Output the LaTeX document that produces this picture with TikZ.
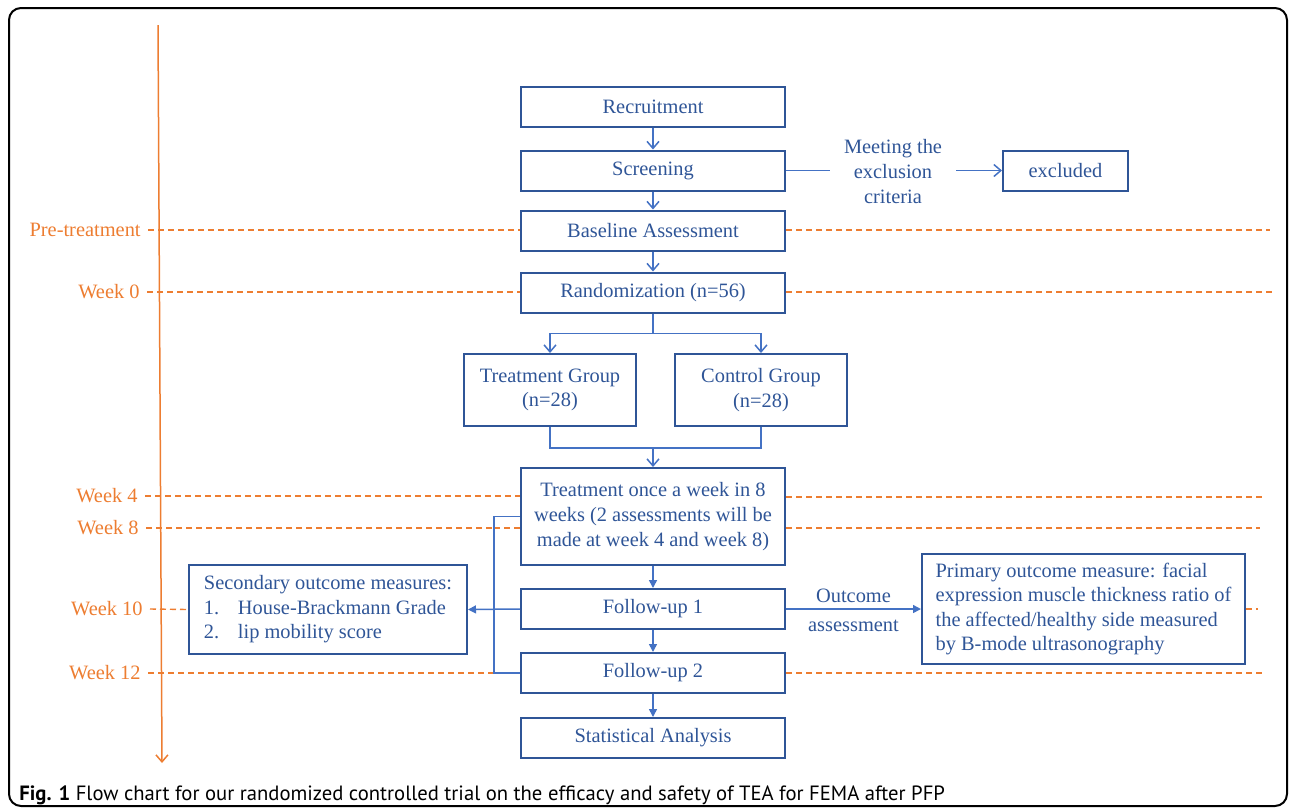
\documentclass[tikz,border=0pt]{standalone}
\usepackage{fontspec}
\setmainfont{Liberation Serif}
\newfontfamily\capfont{PT Sans}
\usetikzlibrary{arrows.meta}

\definecolor{axisorange}{HTML}{ED7D31}
\definecolor{boxblue}{HTML}{2F5597}
\definecolor{lineblue}{HTML}{4472C4}

\newcommand{\flowfont}{\fontsize{10.2}{12.3}\selectfont}

\tikzset{
  stage/.style={draw=boxblue, line width=1pt, text=boxblue, minimum width=132pt,
    minimum height=20pt, inner sep=0pt, font=\flowfont, align=center},
  note/.style={text=boxblue, font=\flowfont, align=center},
  conn/.style={draw=lineblue, line width=0.75pt},
  vtip/.style={-{Straight Barb[length=3.5pt,width=6pt]}},
  ttip/.style={-{Triangle[length=4pt,width=4pt]}},
  week/.style={text=axisorange, anchor=east, inner xsep=3.5pt, inner ysep=0pt, font=\flowfont},
  weekline/.style={draw=axisorange, line width=0.7pt, dash pattern=on 3pt off 2pt},
}

\begin{document}
\begin{tikzpicture}[x=0.5pt, y=-0.5pt]
  \useasboundingbox (0,0) rectangle (1292,810);
  % frame
  \draw[line width=1pt, rounded corners=6pt] (9,8) rectangle (1287,806);

  % time axis
  \coordinate (axtop) at (158,25);
  \coordinate (axbot) at (162,763);
  \draw[draw=axisorange, line width=0.75pt, vtip] (axtop) -- (axbot);

  % flow boxes
  \node[stage] (rec) at (653,106.5) {Recruitment};
  \node[stage] (scr) at (653,170.5) {Screening};
  \node[stage] (base) at (653,230.5) {Baseline Assessment};
  \node[stage] (rand) at (653,292.5) {Randomization (n=56)};
  \node[stage, minimum width=86pt, minimum height=36pt] (tg) at (550,390) {Treatment Group\\(n=28)};
  \node[stage, minimum width=86pt, minimum height=36pt] (cg) at (761,390) {Control Group\\(n=28)};
  \node[stage, minimum height=48.5pt] (treat) at (653,516.5) {Treatment once a week in 8\\weeks (2 assessments will be\\made at week 4 and week 8)};
  \node[stage] (fu1) at (653,609) {Follow-up 1};
  \node[stage] (fu2) at (653,673) {Follow-up 2};
  \node[stage] (stat) at (653,738) {Statistical Analysis};
  \node[stage, minimum width=62.5pt] (excl) at (1065.5,170.5) {excluded};
  \node[note, inner xsep=7pt] (meet) at (893,171.5) {Meeting the\\exclusion\\criteria};
  \node[stage, minimum width=139pt, minimum height=44.5pt, align=left] (sec) at (328,609.5)
    {Secondary outcome measures:\\\makebox[17pt][l]{1.}House-Brackmann Grade\\\makebox[17pt][l]{2.}lip mobility score};
  \node[stage, minimum width=161.5pt, minimum height=55pt, align=left] (prim) at (1083.5,609)
    {Primary outcome measure: facial\\expression muscle thickness ratio of\\the affected/healthy side measured\\by B-mode ultrasonography};

  % week labels
  \node[week] (lpre) at (148,230) {Pre-treatment};
  \node[week] (lw0) at (147,292) {Week 0};
  \node[week] (lw4) at (145,496) {Week 4};
  \node[week] (lw8) at (146,528) {Week 8};
  \node[week] (lw10) at (150,609) {Week 10};
  \node[week] (lw12) at (148,673) {Week 12};

  % dashed week lines
  \coordinate (brk) at (494,516.5);
  \coordinate (preend) at (1270,230);
  \coordinate (w0end) at (1275,292);
  \coordinate (w4end) at (1265,497);
  \coordinate (w8end) at (1260,528);
  \coordinate (w10end) at (1258,609);
  \coordinate (w12end) at (1262,673);
  \draw[weekline] (lpre.east) -- (lpre.east -| base.west);
  \draw[weekline] (base.east |- preend) -- (preend);
  \draw[weekline] (lw0.east) -- (lw0.east -| rand.west);
  \draw[weekline] (rand.east |- w0end) -- (w0end);
  \draw[weekline] (lw4.east) -- (lw4.east -| treat.west);
  \draw[weekline] (treat.east |- w4end) -- (w4end);
  \draw[weekline] (lw8.east) -- (lw8.east -| brk);
  \draw[weekline] (brk |- lw8.east) -- (lw8.east -| treat.west);
  \draw[weekline] (treat.east |- w8end) -- (w8end);
  \draw[weekline] (lw10.east) -- (sec.west);
  \draw[weekline] (prim.east) -- (w10end);
  \draw[weekline] (lw12.east) -- (lw12.east -| brk);
  \draw[weekline] (fu2.east) -- (w12end);

  % connectors
  \draw[conn, vtip] (rec) -- (scr);
  \draw[conn, vtip] (scr) -- (base);
  \draw[conn, vtip] (base) -- (rand);
  \draw[conn] (scr.east) -- (scr.east -| meet.west);
  \draw[conn, vtip] (meet.east |- excl.west) -- (excl.west);
  \draw[conn, vtip] (rand.south) -- ++(0,20) -| (tg.north);
  \draw[conn, vtip] (rand.south) -- ++(0,20) -| (cg.north);
  \draw[conn] (tg.south) -- ++(0,21) -| (cg.south);
  \draw[conn, vtip] (tg.south) ++(0,21) -| (treat.north);
  \draw[conn, ttip] (treat) -- (fu1);
  \draw[conn, ttip] (fu1) -- (fu2);
  \draw[conn, ttip] (fu2) -- (stat);
  \draw[conn, ttip] (fu1) -- node[note, above, inner sep=3pt] {Outcome}
    node[note, below, inner sep=5pt] {assessment} (prim);
  \draw[conn] (treat.west) -- (brk) |- (fu2.west);
  \draw[conn, ttip] (fu1.west) -- (sec.east);

  % caption
  \node[anchor=base west, inner sep=0pt, font=\capfont\fontsize{10.33}{12}\selectfont] (cap) at (19,800)
    {\textbf{Fig. 1} Flow chart for our randomized controlled trial on the efficacy and safety of TEA for FEMA after PFP};
\end{tikzpicture}
\end{document}
